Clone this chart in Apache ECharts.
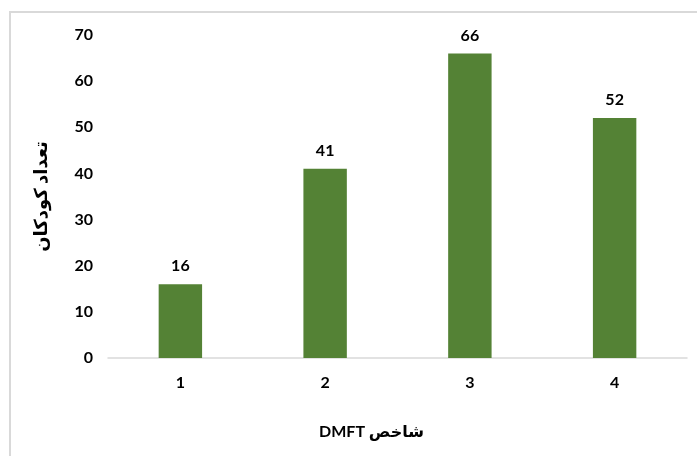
<!DOCTYPE html>
<html>
<head>
<meta charset="utf-8">
<script src="https://cdn.jsdelivr.net/npm/echarts@6/dist/echarts.min.js"></script>
<style>
  html, body { margin: 0; padding: 0; background: #fff; }
  #chart { width: 697px; height: 456px; }
</style>
</head>
<body>
<div id="chart"></div>
<script>
// داده‌ها
const categories = ["1", "2", "3", "4"];
const counts = [16, 41, 66, 52];
const yTitle = "تعداد کودکان";
const xTitle = "\u202Bشاخص DMFT\u202C"; // راست به چپ

const chart = echarts.init(document.getElementById("chart"));
const font = "Lato, 'DejaVu Sans', sans-serif";

chart.setOption({
  animation: false,
  textStyle: { fontFamily: font },
  // قاب دور نمودار
  graphic: [{
    type: "rect",
    shape: { x: 10, y: 12, width: 800, height: 600 },
    style: { fill: null, stroke: "#d9d9d9", lineWidth: 2 }
  }],
  grid: { left: 108, right: 10, top: 35, bottom: 98 },
  xAxis: {
    type: "category",
    data: categories,
    name: xTitle,
    nameLocation: "middle",
    nameGap: 66,
    nameTextStyle: { color: "#000", fontWeight: "bold", fontSize: 16, fontFamily: font, padding: [0, 52, 0, 0] },
    axisLine: { lineStyle: { color: "#d9d9d9", width: 1.5 } },
    axisTick: { show: false },
    axisLabel: { color: "#000", fontWeight: "bold", fontSize: 16, margin: 17 }
  },
  yAxis: {
    type: "value",
    min: 0,
    max: 70,
    interval: 10,
    name: yTitle,
    nameLocation: "middle",
    nameRotate: 90,
    nameGap: 58,
    nameTextStyle: { color: "#000", fontWeight: "bold", fontSize: 18, fontFamily: font },
    axisLine: { show: false },
    axisTick: { show: false },
    splitLine: { show: false },
    axisLabel: { color: "#000", fontWeight: "bold", fontSize: 16, margin: 15 }
  },
  series: [{
    type: "bar",
    data: counts,
    barWidth: "30%",
    itemStyle: { color: "#548235" },
    label: {
      show: true,
      position: "top",
      distance: 10,
      color: "#000",
      fontWeight: "bold",
      fontSize: 16
    }
  }]
});
</script>
</body>
</html>
